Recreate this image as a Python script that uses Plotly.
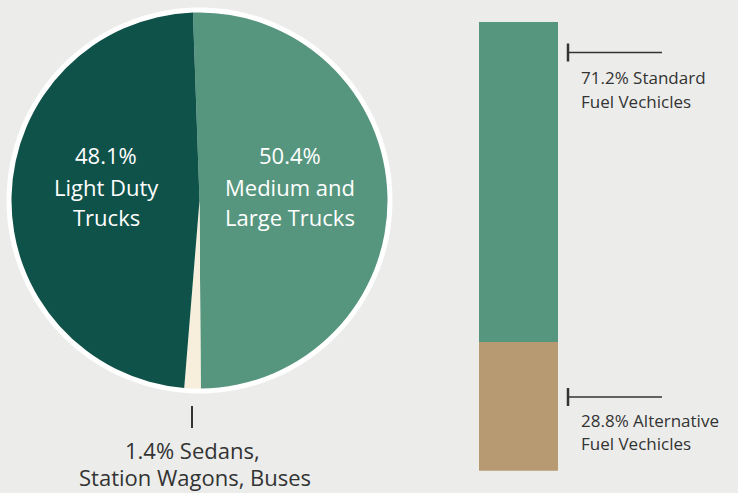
import plotly.graph_objects as go

W, H = 738, 493

# Data
pie_labels = ["Medium and Large Trucks", "Sedans, Station Wagons, Buses", "Light Duty Trucks"]
pie_values = [50.4, 1.4, 48.1]
pie_colors = ["#56967e", "#f7efdc", "#0f5249"]

bar_labels = ["Alternative Fuel Vechicles", "Standard Fuel Vechicles"]
bar_values = [28.8, 71.2]
bar_colors = ["#b89a72", "#56967e"]
bar_category = ["Vehicles"]

BG = "#ecedeb"
TXT = "#333333"
FONT = "Open Sans"


def px(x):
    return x / W


def py(y):
    return 1 - y / H


fig = go.Figure()

# pie geometry (pixels)
pcx, pcy, pr = 199.5, 200.5, 188
fig.add_trace(go.Pie(
    labels=pie_labels, values=pie_values, sort=False, direction="clockwise",
    rotation=-2, textinfo="none", hoverinfo="label+percent",
    marker=dict(colors=pie_colors, line=dict(width=0)),
    domain=dict(x=[px(pcx - pr), px(pcx + pr)], y=[py(pcy + pr), py(pcy - pr)]),
    showlegend=False,
))

for lab, val, col in zip(bar_labels, bar_values, bar_colors):
    fig.add_trace(go.Bar(x=bar_category, y=[val], name=lab, marker=dict(color=col, line=dict(width=0)),
                         showlegend=False, hoverinfo="name+y"))

shapes = []
ro = 193
shapes.append(dict(type="circle", xref="paper", yref="paper", layer="below",
                   x0=px(pcx - ro), x1=px(pcx + ro), y0=py(pcy + ro), y1=py(pcy - ro),
                   fillcolor="white", line=dict(width=0)))
# leader marks
def leader(y, x0=568, x1=662, h=9):
    shapes.append(dict(type="line", xref="paper", yref="paper", x0=px(x0), x1=px(x1), y0=py(y), y1=py(y),
                       line=dict(color="#333333", width=1.5)))
    shapes.append(dict(type="line", xref="paper", yref="paper", x0=px(x0), x1=px(x0), y0=py(y - h), y1=py(y + h),
                       line=dict(color="#333333", width=2.5)))

leader(52.5)
leader(397)
shapes.append(dict(type="line", xref="paper", yref="paper", x0=px(192), x1=px(192), y0=py(406), y1=py(428),
                   line=dict(color="#333333", width=2)))

ann = []
def txt(s, x, y, size, color=TXT, xanchor="center", yanchor="middle"):
    ann.append(dict(text=s, x=px(x), y=py(y), xref="paper", yref="paper", showarrow=False,
                    xanchor=xanchor, yanchor=yanchor, borderpad=0,
                    font=dict(family=FONT, size=size, color=color)))

wsz = 22
txt(f"{pie_values[2]}%", 106, 155, wsz, "white")
txt("Light Duty", 106, 186.5, wsz, "white")
txt("Trucks", 106, 217, wsz, "white")
txt(f"{pie_values[0]}%", 290, 155, wsz, "white")
txt("Medium and", 290, 186.5, wsz, "white")
txt("Large Trucks", 290, 217, wsz, "white")
txt(f"{pie_values[1]}% Sedans,", 193, 449.5, wsz)
txt("Station Wagons, Buses", 195, 493, wsz, yanchor="bottom")

rsz = 17
txt(f"{bar_values[1]}% Standard", 580, 77.5, rsz, xanchor="left")
txt("Fuel Vechicles", 580, 101, rsz, xanchor="left")
txt(f"{bar_values[0]}% Alternative", 580, 420, rsz, xanchor="left")
txt("Fuel Vechicles", 580, 443.5, rsz, xanchor="left")

fig.update_layout(
    width=W, height=H, margin=dict(l=0, r=0, t=0, b=0),
    paper_bgcolor=BG, plot_bgcolor=BG,
    barmode="stack", bargap=0,
    xaxis=dict(domain=[px(479), px(558)], visible=False, fixedrange=True),
    yaxis=dict(domain=[py(470.7), py(21.7)], range=[0, 100], visible=False, fixedrange=True),
    shapes=shapes, annotations=ann,
)

fig.write_html("out.html", config=dict(displayModeBar=False),
               post_script="document.body.style.margin='0';document.body.style.background='%s';" % BG)
